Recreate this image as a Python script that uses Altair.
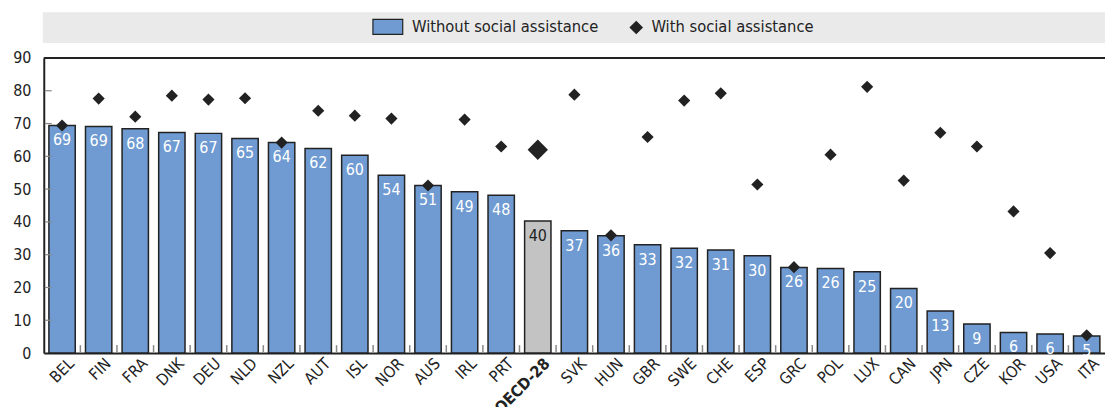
import altair as alt
import pandas as pd

countries = ["BEL", "FIN", "FRA", "DNK", "DEU", "NLD", "NZL", "AUT", "ISL", "NOR",
             "AUS", "IRL", "PRT", "OECD-28", "SVK", "HUN", "GBR", "SWE", "CHE", "ESP",
             "GRC", "POL", "LUX", "CAN", "JPN", "CZE", "KOR", "USA", "ITA"]
without_sa = [69.4, 69.1, 68.4, 67.3, 67.0, 65.4, 64.2, 62.4, 60.3, 54.2,
              51.1, 49.2, 48.1, 40.3, 37.3, 35.8, 33.0, 32.0, 31.4, 29.7,
              26.1, 25.8, 24.8, 19.7, 12.8, 8.9, 6.3, 5.8, 5.2]
with_sa = [69.4, 77.6, 72.1, 78.5, 77.3, 77.7, 64.2, 73.9, 72.4, 71.5,
           51.1, 71.2, 63.0, 62.0, 78.8, 35.9, 65.9, 77.0, 79.2, 51.4,
           26.2, 60.5, 81.2, 52.6, 67.2, 63.0, 43.2, 30.5, 5.4]
y_ticks = [0, 10, 20, 30, 40, 50, 60, 70, 80, 90]

S1 = "Without social assistance"
S2 = "With social assistance"

df = pd.DataFrame({
    "country": countries * 2,
    "value": without_sa + with_sa,
    "series": [S1] * len(countries) + [S2] * len(countries),
})

FONT = "Liberation Sans Narrow, DejaVu Sans Condensed, Liberation Sans, sans-serif"
W, H = 1068, 297
STEP = W / (len(countries) - 0.28 + 2 * 0.14)
BLUE = "#6F9BD2"
DARK = "#222222"

base = alt.Chart(df)

xscale = alt.Scale(domain=countries, paddingInner=0.28, paddingOuter=0.14)
yscale = alt.Scale(domain=[0, 90], nice=False)
xaxis = alt.Axis(labelAngle=315, labelFontSize=16, labelColor=DARK,
                 labelFont=FONT, bandPosition=0, grid=True,
                 gridColor="white", gridWidth=1.5, ticks=False,
                 domainColor=DARK, domainWidth=2, labelPadding=2,
                 labelOffset=4, labelLimit=200,
                 labelFontWeight=alt.expr("datum.value == 'OECD-28' ? 'bold' : 'normal'"))
yaxis = alt.Axis(values=y_ticks, labelFontSize=16, labelOverlap=False,
                 labelColor=DARK, labelFont=FONT, grid=True,
                 gridColor="white", gridWidth=1.5, ticks=False,
                 domainColor=DARK, domainWidth=2, labelPadding=13)

xenc = alt.X("country:N", title=None, scale=xscale, axis=xaxis)
yenc = alt.Y("value:Q", title=None, scale=yscale, axis=yaxis)

color_scale = alt.Scale(domain=[S1, S2], range=[BLUE, DARK])
shape_scale = alt.Scale(domain=[S1, S2],
                        range=["M-4,-1.25H1V1.25H-4Z", "diamond"])

legend_band = alt.Chart(pd.DataFrame({"a": [0]})).mark_rect(color="#EAEAEA").encode(
    x=alt.value(-1), x2=alt.value(W + 2), y=alt.value(-46), y2=alt.value(-15))

top_rule = alt.Chart(pd.DataFrame({"a": [0]})).mark_rule(color=DARK, strokeWidth=2).encode(
    x=alt.value(0), x2=alt.value(W), y=alt.value(0))

ytick_marks = alt.Chart(pd.DataFrame({"value": y_ticks[1:-1]})).mark_rule(
    color="#888888", strokeWidth=1.2).encode(
    y=yenc, x=alt.value(1), x2=alt.value(8))

xtick_marks = alt.Chart(pd.DataFrame({"country": countries[1:]})).mark_rule(
    color="#888888", strokeWidth=1.5, xOffset=-STEP / 2).encode(
    x=xenc, y=alt.value(H - 1), y2=alt.value(H - 8))

bars = base.transform_filter(alt.datum.series == S1).mark_bar(
    stroke=DARK, strokeWidth=1.5).encode(
    x=xenc, y=yenc,
    color=alt.condition(alt.datum.country == "OECD-28", alt.value("#C3C3C3"),
                        alt.Color("series:N", scale=color_scale,
                                  legend=alt.Legend(title=None, orient="none",
                                                    legendX=347, legendY=-40,
                                                    direction="horizontal",
                                                    labelFont=FONT, labelFontSize=16.5,
                                                    labelColor=DARK, symbolSize=144,
                                                    symbolStrokeColor=DARK,
                                                    symbolStrokeWidth=1.2,
                                                    columnPadding=28, labelOffset=7,
                                                    labelLimit=400,
                                                    padding=0, symbolOpacity=1))),
)

labels = base.transform_filter(alt.datum.series == S1).mark_text(
    baseline="top", dy=7, font=FONT, fontSize=16).encode(
    x=xenc,
    y=yenc,
    text=alt.Text("value:Q", format=".0f"),
    color=alt.condition(alt.datum.country == "OECD-28", alt.value(DARK), alt.value("white")),
)

points = base.transform_filter(alt.datum.series == S2).mark_point(
    filled=True, opacity=1).encode(
    x=xenc,
    y=yenc,
    color=alt.Color("series:N", scale=color_scale, legend=None),
    shape=alt.Shape("series:N", scale=shape_scale, legend=None),
    size=alt.condition(alt.datum.country == "OECD-28", alt.value(420), alt.value(150)),
)

chart = alt.layer(legend_band, bars, xtick_marks, ytick_marks, labels, points, top_rule).properties(
    width=W, height=H,
    autosize=alt.AutoSizeParams(type="none"),
    padding={"left": 36, "top": 49, "right": 0, "bottom": 53},
).configure_view(fill="#DFE6F3", stroke=None).configure(background="white")

chart.save("out.html", embed_options={"renderer": "svg", "actions": False})
